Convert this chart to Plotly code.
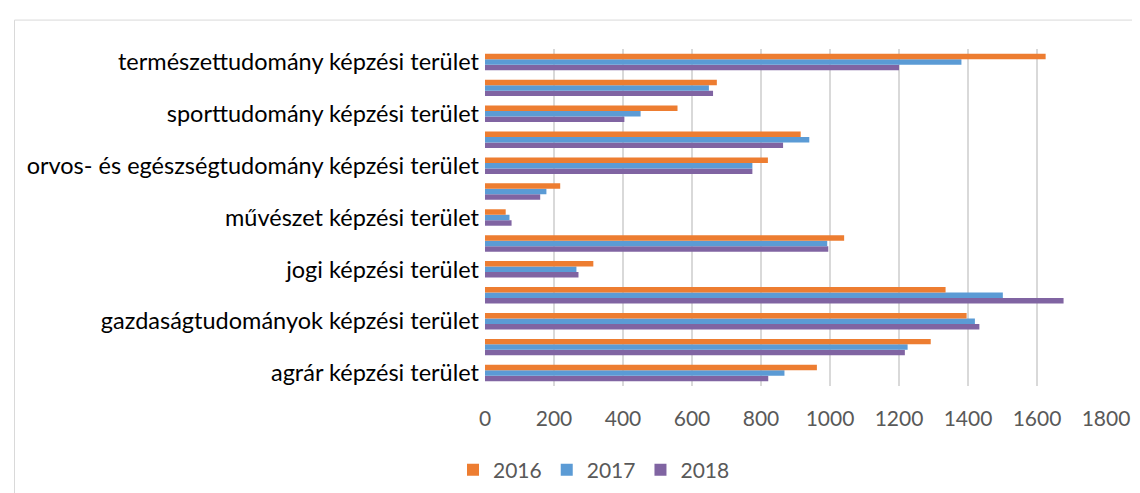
import plotly.graph_objects as go

categories = [
    "agrár képzési terület",
    "bölcsészettudomány képzési terület",
    "gazdaságtudományok képzési terület",
    "informatika képzési terület",
    "jogi képzési terület",
    "műszaki képzési terület",
    "művészet képzési terület",
    "művészetközvetítés képzési terület",
    "orvos- és egészségtudomány képzési terület",
    "pedagógusképzés képzési terület",
    "sporttudomány képzési terület",
    "társadalomtudomány képzési terület",
    "természettudomány képzési terület",
]
values_2016 = [962, 1292, 1396, 1335, 314, 1041, 60, 218, 820, 915, 558, 672, 1625]
values_2017 = [868, 1225, 1420, 1501, 265, 992, 71, 178, 775, 940, 451, 649, 1381]
values_2018 = [821, 1217, 1433, 1677, 271, 995, 77, 160, 775, 864, 404, 661, 1200]
x_ticks = [0, 200, 400, 600, 800, 1000, 1200, 1400, 1600, 1800]
shown_labels = categories[::2]

W, H = 1140, 493
L, R, T, B = 477, 42, 41, 114
pw, ph = W - L - R, H - T - B

def px_x(px):
    return (px - L) / pw

def px_y(py):
    return (H - B - py) / ph

FONT = "Lato, Carlito, Calibri, sans-serif"

fig = go.Figure()
series = [("2018", values_2018, "#8064A2"), ("2017", values_2017, "#5B9BD5"), ("2016", values_2016, "#ED7D31")]
for name, vals, col in series:
    fig.add_trace(go.Bar(
        y=categories, x=vals, name=name, orientation="h",
        marker=dict(color=col, line=dict(width=0)),
    ))

fig.update_layout(
    width=W, height=H,
    margin=dict(l=L, r=R, t=T, b=B),
    paper_bgcolor="white", plot_bgcolor="white",
    barmode="group", bargap=0.365, bargroupgap=0,
    font=dict(family=FONT, size=21, color="#000000"),
    showlegend=True,
    legend=dict(
        orientation="h", traceorder="reversed",
        x=px_x(445), xanchor="left", y=px_y(462), yanchor="middle",
        font=dict(family=FONT, size=21, color="#595959"),
        itemwidth=30, bgcolor="rgba(0,0,0,0)",
    ),
    xaxis=dict(
        range=[0, 1800], tickvals=x_ticks, ticktext=[str(v) for v in x_ticks],
        showgrid=True, gridcolor="#d9d9d9", gridwidth=2,
        zeroline=False, showline=False, ticks="",
        tickfont=dict(family=FONT, size=21, color="#595959"),
        ticklabelstandoff=18,
    ),
    yaxis=dict(
        type="category", categoryorder="array", categoryarray=categories,
        range=[-0.5, len(categories) - 0.5],
        tickvals=shown_labels, ticktext=shown_labels,
        showgrid=False, zeroline=False, showline=False, ticks="",
        tickfont=dict(family=FONT, size=23.5, color="#000000"),
        ticklabelstandoff=5,
    ),
    shapes=[
        dict(type="line", xref="paper", yref="paper",
             x0=px_x(6.5), x1=px_x(1140), y0=px_y(12), y1=px_y(12),
             line=dict(color="#d9d9d9", width=1)),
        dict(type="line", xref="paper", yref="paper",
             x0=px_x(6.5), x1=px_x(6.5), y0=px_y(12), y1=px_y(493),
             line=dict(color="#d9d9d9", width=1)),
    ],
)

fig.write_html("out.html")
